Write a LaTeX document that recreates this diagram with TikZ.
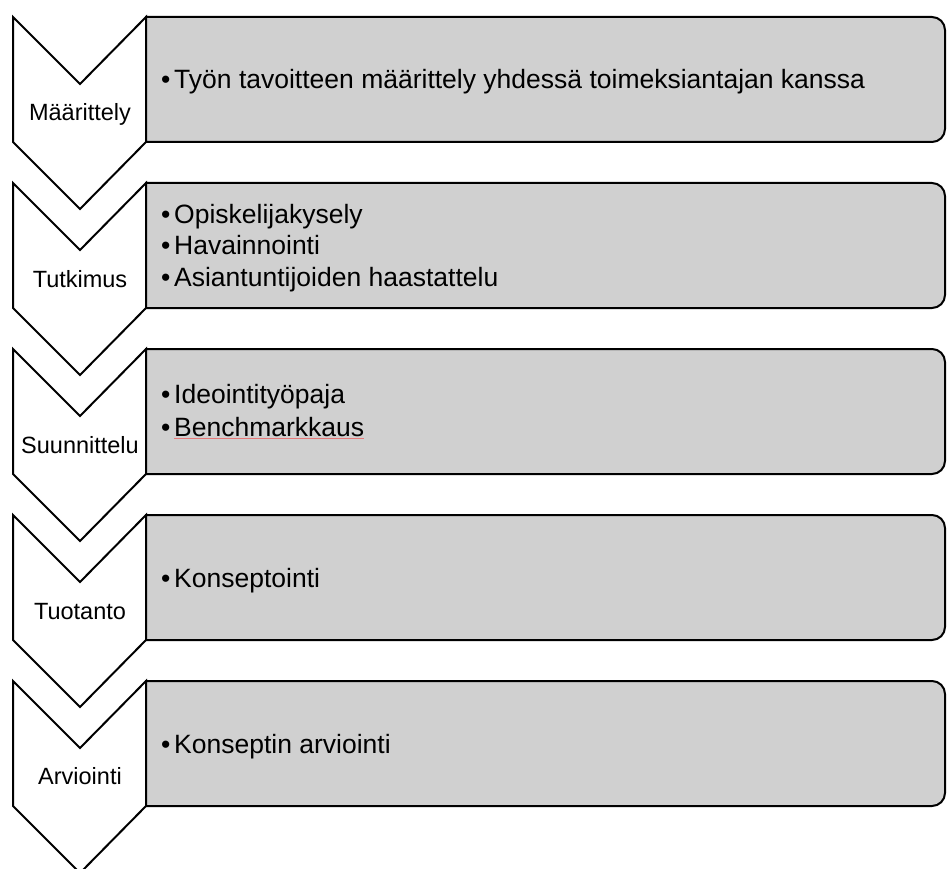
\documentclass[tikz,border=0pt]{standalone}
\usepackage{fontspec}
\setmainfont{Liberation Sans}
\definecolor{boxgray}{RGB}{208,208,208}
\definecolor{spellred}{RGB}{230,120,120}
\newcommand\bul{\makebox[13pt][l]{•}}
\begin{document}
\begin{tikzpicture}[x=1pt,y=1pt,
  outline/.style={draw=black,line width=2pt,line join=miter},
  chev/.style={outline,fill=white},
  panel/.style={outline,fill=boxgray},
  lbl/.style={inner sep=0pt,anchor=base,font=\fontsize{23.5}{28}\selectfont},
  itm/.style={inner sep=0pt,anchor=base west,font=\fontsize{26.5}{32}\selectfont},
  spell/.style={draw=spellred,line width=0.8pt}]
\useasboundingbox (0,0) rectangle (947,-869);
\clip (0,0) rectangle (947,-869);
\foreach \t in {17,183,349,515,681}{
  \draw[chev] (13,-\t) -- (80,-\t-67) -- (146,-\t) -- (146,-\t-125) -- (80,-\t-192) -- (13,-\t-125) -- cycle;
  \draw[panel] (146,-\t) -- (932,-\t) arc[start angle=90,end angle=0,radius=13]
     -- (945,-\t-112) arc[start angle=0,end angle=-90,radius=13] -- (146,-\t-125) -- cycle;
}
\node[lbl] (lab1) at (80,-121) {Määrittely};
\node[lbl] (lab2) at (80,-287) {Tutkimus};
\node[lbl] (lab3) at (80,-453) {Suunnittelu};
\node[lbl] (lab4) at (80,-619) {Tuotanto};
\node[lbl] (lab5) at (80,-784) {Arviointi};

\node[itm] (i1) at (161,-89) {\bul Työn tavoitteen määrittely yhdessä toimeksiantajan kanssa};
\node[itm] (i2) at (161,-223) {\bul Opiskelijakysely};
\node[itm] (i3) at (161,-254) {\bul Havainnointi};
\node[itm] (i4) at (161,-286) {\bul Asiantuntijoiden haastattelu};
\node[itm] (i5) at (161,-403) {\bul Ideointityöpaja};
\node[itm] (i6) at (161,-436) {\bul Benchmarkkaus};
\node[itm] (i7) at (161,-587) {\bul Konseptointi};
\node[itm] (i8) at (161,-753) {\bul Konseptin arviointi};
\draw[spell] ([xshift=13pt,yshift=-2pt]i6.base west) -- ([yshift=-2pt]i6.base east);
\end{tikzpicture}
\end{document}
